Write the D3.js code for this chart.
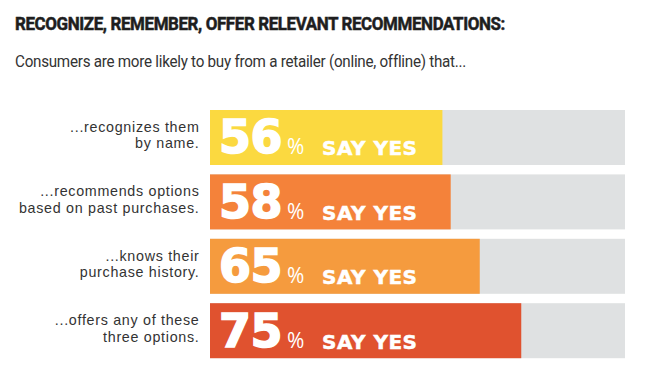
<!DOCTYPE html>
<html><head><meta charset="utf-8">
<script src="https://cdn.jsdelivr.net/npm/d3@7"></script>
<style>body{margin:0;background:#fff}</style>
</head><body>
<script>
const categories = [
  ["...recognizes them", "by name."],
  ["...recommends options", "based on past purchases."],
  ["...knows their", "purchase history."],
  ["...offers any of these", "three options."]
];
const values = [56, 58, 65, 75];
const colors = ["#FBD940", "#F4823A", "#F59B3E", "#E0522F"];
const title = "RECOGNIZE, REMEMBER, OFFER RELEVANT RECOMMENDATIONS:";
const subtitle = "Consumers are more likely to buy from a retailer (online, offline) that...";

const W = 652, H = 390;
const svg = d3.select("body").append("svg").attr("width", W).attr("height", H);

svg.append("text").attr("x", 15).attr("y", 30)
  .attr("font-family", "Roboto, sans-serif").attr("font-weight", 700)
  .attr("font-size", 17.5).attr("letter-spacing", -0.4).attr("fill", "#1e1e1e")
  .attr("stroke", "#1e1e1e").attr("stroke-width", 0.5)
  .attr("textLength", 490).attr("lengthAdjust", "spacingAndGlyphs")
  .text(title);
svg.append("text").attr("x", 15).attr("y", 67)
  .attr("font-family", "Roboto, sans-serif").attr("font-weight", 400)
  .attr("font-size", 17).attr("letter-spacing", -0.3).attr("fill", "#333")
  .attr("textLength", 451).attr("lengthAdjust", "spacingAndGlyphs")
  .text(subtitle);

const idx = d3.range(values.length);
const x = d3.scaleLinear().domain([0, 100]).range([210, 625]);
const y = d3.scaleBand().domain(idx).range([110, 358.2]).paddingInner(0.146).paddingOuter(0);

const g = svg.append("g");
g.selectAll("rect.bg").data(idx).join("rect").attr("class", "bg")
  .attr("x", x(0)).attr("y", d => y(d)).attr("width", x(100) - x(0)).attr("height", y.bandwidth())
  .attr("fill", "#DFE1E2");
g.selectAll("rect.val").data(idx).join("rect").attr("class", "val")
  .attr("x", x(0)).attr("y", d => y(d)).attr("width", d => x(values[d]) - x(0)).attr("height", y.bandwidth())
  .attr("fill", d => colors[d]);

[0, 1].forEach(i => {
  g.selectAll("text.lab" + i).data(idx).join("text").attr("class", "lab" + i)
    .attr("text-anchor", "end").attr("font-family", "'Liberation Sans', Arial, sans-serif")
    .attr("font-size", 14.3).attr("letter-spacing", 0.7).attr("fill", "#333")
    .attr("x", 199.5)
    .attr("y", d => y(d) + y.bandwidth() / 2 - 5.5 + i * 16.3)
    .text(d => categories[d][i]);
});

const base = d => y(d) + y.bandwidth() - 11.5;
g.selectAll("text.num").data(idx).join("text").attr("class", "num")
  .attr("x", x(0) + 9).attr("y", base)
  .attr("fill", "#fff").attr("stroke", "#fff").attr("stroke-width", 1.6)
  .attr("font-family", "'DejaVu Sans', sans-serif").attr("font-weight", 700)
  .attr("font-size", 46).attr("letter-spacing", -0.5)
  .text(d => values[d]);
g.selectAll("text.pct").data(idx).join("text").attr("class", "pct")
  .attr("x", x(0) + 77).attr("y", d => base(d) + 1)
  .attr("fill", "#fff").attr("font-family", "'Open Sans', sans-serif")
  .attr("font-size", 21).text("%");
g.selectAll("text.yes").data(idx).join("text").attr("class", "yes")
  .attr("x", x(0) + 112).attr("y", d => base(d) + 2)
  .attr("fill", "#fff").attr("stroke", "#fff").attr("stroke-width", 0.5)
  .attr("font-family", "'DejaVu Sans', sans-serif").attr("font-weight", 700)
  .attr("font-size", 20).attr("letter-spacing", 0.5)
  .text("SAY YES");
</script>
</body></html>
